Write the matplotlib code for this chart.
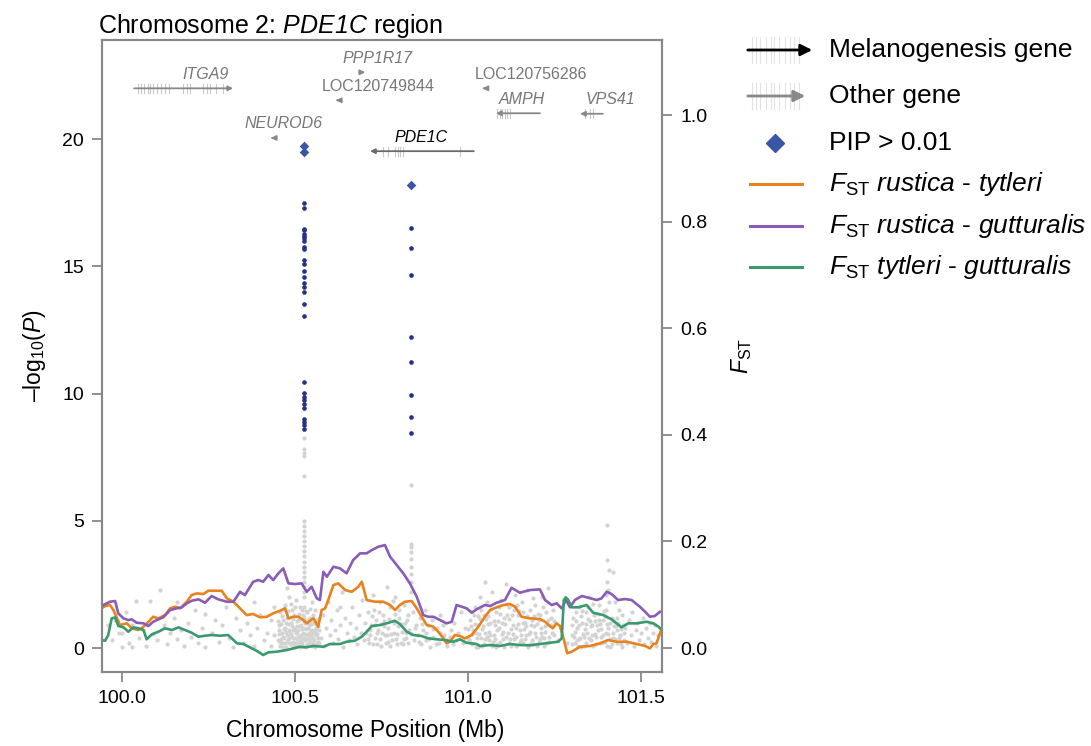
import matplotlib
matplotlib.use('Agg')
import matplotlib.pyplot as plt
from matplotlib.patches import FancyArrowPatch
from matplotlib.lines import Line2D

plt.rcParams['font.family'] = 'Liberation Sans'
plt.rcParams['mathtext.fontset'] = 'custom'
# rm used for italic words (digits included), sf for upright sub/superscripts
plt.rcParams['mathtext.rm'] = 'Liberation Sans:italic'
plt.rcParams['mathtext.it'] = 'Liberation Sans:italic'
plt.rcParams['mathtext.sf'] = 'Liberation Sans'

# background SNPs: position (Mb), -log10(P)
gray_pts = [
    (99.96, 0.9), (99.97, 0.3), (99.98, 1.1), (99.99, 0.6), (100.00, 0.05), (100.00, 0.6), (100.01, 1.4),
    (100.02, 0.2), (100.03, 0.05), (100.03, 0.9), (100.04, 1.85), (100.05, 0.4), (100.06, 0.7), (100.07, 0.1),
    (100.08, 1.85), (100.09, 0.55), (100.10, 0.3), (100.11, 2.3), (100.12, 0.9), (100.13, 0.15), (100.14, 0.6),
    (100.15, 1.2), (100.16, 0.35), (100.16, 1.8), (100.17, 0.7), (100.18, 0.1), (100.19, 1.0), (100.20, 0.45),
    (100.21, 1.5), (100.22, 0.2), (100.23, 0.8), (100.24, 1.35), (100.24, 0.05),
    (100.26, 0.6), (100.27, 1.1), (100.28, 0.25), (100.29, 0.9), (100.30, 1.6), (100.31, 0.4), (100.32, 0.05),
    (100.33, 1.2), (100.34, 0.7), (100.35, 0.2), (100.36, 1.0), (100.37, 0.5), (100.38, 1.8), (100.38, 0.1),
    (100.39, 0.8), (100.40, 1.3), (100.41, 0.3), (100.42, 0.6), (100.43, 1.1), (100.43, 0.1), (100.44, 0.5),
    (100.44, 1.6), (100.476, 2.35),
    (100.451, 0.3), (100.454, 0.9), (100.456, 0.1), (100.458, 1.4), (100.461, 0.6), (100.463, 0.2), (100.465, 1.1),
    (100.468, 0.4), (100.470, 0.8), (100.472, 1.7), (100.474, 0.05), (100.476, 0.5), (100.478, 1.2), (100.480, 0.3),
    (100.482, 0.7), (100.484, 2.0), (100.486, 0.15), (100.488, 1.0), (100.490, 0.45), (100.492, 1.5), (100.494, 0.25),
    (100.496, 0.8), (100.498, 1.3), (100.500, 0.05), (100.502, 0.6), (100.504, 1.9), (100.506, 0.35), (100.508, 1.1),
    (100.510, 0.7), (100.512, 0.1), (100.514, 1.6), (100.516, 0.5), (100.518, 0.9), (100.520, 0.2), (100.522, 1.3),
    (100.524, 0.6), (100.528, 0.3), (100.530, 1.0), (100.532, 0.05), (100.534, 1.4), (100.536, 0.5), (100.538, 0.8),
    (100.540, 0.2), (100.542, 1.2), (100.544, 0.4), (100.546, 0.7), (100.548, 1.8), (100.550, 0.1), (100.552, 0.6),
    (100.554, 1.0), (100.556, 0.3), (100.558, 1.5), (100.560, 0.5), (100.562, 0.15), (100.564, 0.9), (100.566, 0.4),
    (100.568, 1.2), (100.570, 0.7), (100.455, 0.55), (100.467, 0.75), (100.479, 0.95), (100.489, 0.2), (100.497, 0.4),
    (100.507, 0.85), (100.517, 0.3), (100.535, 0.15), (100.545, 0.95), (100.557, 0.65),
    (100.452, 1.05), (100.459, 0.35), (100.462, 1.25), (100.466, 0.05), (100.469, 1.55), (100.473, 0.65),
    (100.477, 0.25), (100.481, 1.45), (100.485, 0.6), (100.487, 1.75), (100.491, 0.85), (100.493, 0.05),
    (100.495, 1.15), (100.499, 0.7), (100.501, 1.6), (100.503, 0.2), (100.505, 1.05), (100.509, 0.45),
    (100.511, 1.35), (100.513, 0.85), (100.515, 0.05), (100.519, 1.5), (100.521, 0.75), (100.523, 0.1),
    (100.527, 1.05), (100.529, 0.55), (100.531, 1.45), (100.533, 0.75), (100.537, 1.1), (100.539, 0.35),
    (100.541, 0.6), (100.543, 1.55), (100.547, 0.25), (100.549, 1.0), (100.551, 0.4), (100.553, 1.3),
    (100.555, 0.7), (100.559, 0.05), (100.561, 1.1), (100.563, 0.55), (100.567, 0.85), (100.569, 0.2),
    (100.453, 0.7), (100.457, 0.25), (100.460, 0.95), (100.464, 0.45), (100.471, 0.2), (100.475, 1.0),
    (100.483, 0.4), (100.487, 0.55), (100.493, 0.7), (100.499, 0.15), (100.505, 0.6), (100.511, 0.25),
    (100.515, 1.15), (100.521, 0.4), (100.533, 0.35), (100.539, 0.9), (100.547, 0.5), (100.553, 0.15),
    (100.561, 0.8), (100.565, 0.25),
    (100.526, 0.4), (100.526, 0.8), (100.526, 1.2), (100.526, 1.6), (100.526, 2.0), (100.526, 2.2), (100.526, 2.4),
    (100.526, 2.6), (100.526, 2.8), (100.526, 3.0), (100.526, 3.2), (100.526, 3.4), (100.526, 3.6), (100.526, 3.8),
    (100.526, 4.0), (100.526, 4.2), (100.526, 4.4), (100.526, 4.6), (100.526, 4.8), (100.526, 5.0), (100.526, 6.76),
    (100.526, 7.54), (100.526, 7.67), (100.526, 7.81), (100.526, 8.25),
    (100.575, 0.4), (100.58, 1.3), (100.585, 0.1), (100.59, 0.8), (100.595, 1.8), (100.60, 0.5), (100.605, 1.1),
    (100.61, 0.2), (100.615, 0.7), (100.62, 1.5), (100.625, 0.35), (100.63, 0.9), (100.635, 2.2), (100.64, 0.05),
    (100.645, 1.2), (100.65, 0.6), (100.655, 0.3), (100.66, 1.0), (100.665, 1.6), (100.67, 0.45), (100.675, 0.8),
    (100.68, 0.15), (100.685, 1.3), (100.69, 0.6), (100.695, 1.9), (100.70, 0.3), (100.630, 1.6),
    (100.705, 0.6), (100.71, 1.4), (100.715, 0.2), (100.72, 0.9), (100.725, 2.1), (100.73, 0.4), (100.735, 1.1),
    (100.74, 0.7), (100.745, 1.8), (100.75, 0.1), (100.755, 1.3), (100.76, 0.5), (100.765, 2.4), (100.77, 0.8),
    (100.775, 1.6), (100.78, 0.3), (100.785, 1.0), (100.79, 2.0), (100.795, 0.55), (100.80, 1.2), (100.805, 0.2),
    (100.81, 0.9), (100.815, 1.7), (100.82, 0.4), (100.825, 1.1), (100.83, 0.7), (100.84, 1.4), (100.845, 0.3),
    (100.85, 0.9), (100.712, 0.35), (100.728, 1.5), (100.748, 0.95), (100.768, 0.25), (100.788, 1.35), (100.808, 0.65),
    (100.702, 1.0), (100.718, 0.7), (100.722, 1.25), (100.732, 0.9), (100.738, 0.15), (100.742, 1.4),
    (100.752, 0.6), (100.758, 1.05), (100.762, 0.2), (100.772, 1.15), (100.778, 0.55), (100.782, 1.85),
    (100.792, 0.35), (100.798, 0.85), (100.802, 1.5), (100.812, 0.15), (100.818, 1.0), (100.822, 0.6), (100.828, 1.3),
    (100.716, 0.5), (100.726, 0.15), (100.736, 0.6), (100.746, 0.35), (100.756, 0.85), (100.766, 0.5),
    (100.776, 0.1), (100.786, 0.6), (100.796, 0.15), (100.806, 0.95), (100.816, 0.35), (100.826, 0.2),
    (100.836, 0.55), (100.846, 0.8),
    (100.834, 2.2), (100.834, 2.6), (100.834, 2.9), (100.834, 3.2), (100.834, 3.5), (100.834, 3.77), (100.834, 3.97),
    (100.834, 4.1), (100.834, 6.42),
    (100.855, 0.5), (100.86, 1.2), (100.865, 0.15), (100.87, 0.7), (100.875, 1.5), (100.88, 0.3), (100.885, 0.9),
    (100.89, 0.05), (100.895, 1.1), (100.90, 0.45), (100.91, 0.8), (100.915, 0.2), (100.92, 1.3), (100.93, 0.5),
    (100.94, 0.1), (100.95, 0.7), (100.96, 1.0), (100.965, 0.3), (100.97, 0.6), (100.98, 1.4), (100.985, 0.2),
    (100.99, 0.8), (101.0, 0.4), (100.858, 0.25), (100.868, 0.95), (100.878, 0.6), (100.888, 0.35), (100.898, 0.75),
    (100.908, 0.15), (100.918, 0.6), (100.928, 0.9), (100.938, 0.3), (100.948, 0.45), (100.958, 0.15),
    (101.005, 1.1), (101.01, 0.2), (101.015, 0.7), (101.02, 1.6), (101.025, 0.4), (101.03, 0.9), (101.035, 2.0),
    (101.04, 0.1), (101.045, 1.3), (101.049, 2.58), (101.05, 0.6), (101.055, 1.8), (101.06, 0.3), (101.065, 1.0),
    (101.07, 2.2), (101.075, 0.5), (101.08, 1.4), (101.085, 0.15), (101.09, 0.8), (101.095, 1.9), (101.10, 0.35),
    (101.105, 1.2), (101.11, 2.5), (101.115, 0.6), (101.12, 1.6), (101.125, 0.1), (101.13, 0.9), (101.135, 2.1),
    (101.14, 0.45), (101.145, 1.3), (101.15, 0.7), (101.155, 1.8), (101.16, 0.2), (101.165, 1.0), (101.17, 2.3),
    (101.175, 0.55), (101.18, 1.5), (101.185, 0.3), (101.19, 0.85), (101.195, 1.7), (101.20, 0.1), (101.205, 1.1),
    (101.21, 0.6), (101.215, 2.0), (101.22, 0.4), (101.225, 1.4), (101.23, 2.37), (101.235, 0.25), (101.24, 0.9),
    (101.245, 1.5), (101.25, 0.5), (101.012, 0.55), (101.028, 1.25), (101.042, 0.75), (101.058, 0.95), (101.072, 0.25),
    (101.088, 1.05), (101.102, 0.65), (101.118, 1.15), (101.132, 0.35), (101.148, 1.45), (101.162, 0.75),
    (101.178, 0.15), (101.192, 1.25), (101.208, 0.35), (101.222, 0.85),
    (101.003, 0.3), (101.008, 0.85), (101.018, 1.3), (101.022, 0.05), (101.032, 0.55), (101.038, 1.5),
    (101.048, 0.35), (101.052, 1.15), (101.062, 0.65), (101.068, 1.55), (101.078, 0.9), (101.082, 0.05),
    (101.092, 1.35), (101.098, 0.55), (101.108, 0.95), (101.112, 1.75), (101.122, 0.35), (101.128, 1.3),
    (101.138, 0.8), (101.142, 1.7), (101.152, 0.3), (101.158, 1.0), (101.168, 0.5), (101.172, 1.25),
    (101.182, 0.9), (101.188, 1.95), (101.198, 0.45), (101.202, 1.35), (101.212, 0.8), (101.218, 1.6),
    (101.228, 0.2), (101.232, 1.1), (101.242, 0.6), (101.248, 1.05),
    (101.001, 0.75), (101.007, 1.45), (101.013, 0.15), (101.019, 0.95), (101.024, 0.6), (101.029, 0.05),
    (101.034, 1.15), (101.039, 0.4), (101.044, 0.85), (101.047, 0.15), (101.054, 0.45), (101.059, 1.25),
    (101.064, 0.5), (101.069, 0.1), (101.074, 1.05), (101.079, 0.35), (101.084, 0.7), (101.089, 1.6),
    (101.094, 0.25), (101.099, 1.0), (101.104, 0.05), (101.109, 0.45), (101.114, 1.3), (101.119, 0.2),
    (101.124, 0.75), (101.129, 0.55), (101.134, 1.5), (101.139, 0.1), (101.144, 0.95), (101.149, 0.25),
    (101.154, 0.5), (101.159, 1.4), (101.164, 0.35), (101.169, 0.85), (101.174, 0.05), (101.179, 0.65),
    (101.184, 1.1), (101.189, 0.15), (101.194, 0.6), (101.199, 0.95), (101.204, 0.25), (101.209, 1.3),
    (101.214, 0.45), (101.219, 0.1), (101.224, 0.65), (101.229, 0.9), (101.234, 0.45), (101.239, 1.2),
    (101.26, 0.3), (101.27, 0.8), (101.285, 0.2),
    (101.30, 0.5), (101.305, 1.2), (101.31, 0.2), (101.315, 0.8), (101.32, 1.6), (101.325, 0.4), (101.33, 1.0),
    (101.335, 0.1), (101.34, 1.4), (101.345, 0.6), (101.35, 2.0), (101.355, 0.3), (101.36, 0.9), (101.365, 1.3),
    (101.37, 0.15), (101.375, 0.7), (101.38, 1.7), (101.385, 0.45), (101.39, 1.1), (101.395, 0.25), (101.40, 1.5),
    (101.405, 0.8), (101.41, 0.35), (101.415, 1.2), (101.42, 0.6), (101.425, 1.8), (101.43, 0.2), (101.435, 1.0),
    (101.44, 0.5), (101.445, 1.3), (101.45, 0.3), (101.308, 0.65), (101.322, 0.35), (101.338, 0.75), (101.352, 1.05),
    (101.368, 0.55), (101.382, 0.95), (101.398, 0.6), (101.412, 0.05), (101.428, 0.85), (101.442, 0.15),
    (101.302, 0.9), (101.312, 1.4), (101.318, 0.1), (101.328, 1.25), (101.332, 0.55), (101.342, 0.95),
    (101.348, 1.6), (101.358, 0.5), (101.362, 1.75), (101.372, 0.9), (101.378, 1.1), (101.388, 0.2),
    (101.392, 1.45), (101.402, 0.95), (101.408, 1.8), (101.418, 0.4), (101.422, 1.05), (101.432, 0.7),
    (101.438, 1.5), (101.448, 0.9),
    (101.301, 0.15), (101.306, 0.45), (101.311, 1.05), (101.316, 0.3), (101.321, 0.9), (101.326, 0.05),
    (101.331, 1.45), (101.336, 0.45), (101.341, 0.2), (101.346, 1.15), (101.351, 0.4), (101.356, 0.85),
    (101.361, 0.1), (101.366, 1.05), (101.371, 0.45), (101.376, 1.35), (101.381, 0.2), (101.386, 0.75),
    (101.391, 0.5), (101.396, 1.25), (101.401, 0.1), (101.406, 0.55), (101.411, 1.0), (101.416, 0.15),
    (101.421, 0.85), (101.426, 0.35), (101.431, 1.2), (101.436, 0.4), (101.441, 0.75), (101.446, 0.05),
    (101.451, 0.6),
    (101.402, 4.83), (101.401, 3.46), (101.407, 3.06), (101.420, 3.0), (101.401, 2.6), (101.404, 2.3), (101.398, 2.1),
    (101.455, 0.8), (101.46, 0.2), (101.465, 1.1), (101.47, 0.5), (101.475, 1.4), (101.48, 0.1), (101.485, 0.7),
    (101.49, 1.0), (101.495, 0.3), (101.50, 0.6), (101.505, 1.2), (101.51, 0.15), (101.515, 0.8), (101.52, 0.4),
    (101.525, 1.0), (101.53, 0.25), (101.535, 0.6), (101.54, 0.9), (101.545, 0.1), (101.55, 0.5),
]

# significant SNPs (small navy dots)
sig_x = [100.526] * 29 + [100.834] * 8
sig_p = [17.50, 17.30, 16.49, 16.42, 16.29, 16.19, 16.10, 15.99, 15.77, 15.68, 15.27, 15.08, 14.81, 14.59,
         14.35, 14.20, 14.00, 13.54, 13.05, 10.45, 10.03, 9.87, 9.74, 9.61, 9.42, 9.01, 8.89, 8.76, 8.63,
         16.52, 15.74, 14.66, 12.22, 11.26, 9.95, 9.10, 8.45]

# PIP > 0.01
pip_x = [100.526, 100.526, 100.834]
pip_p = [19.74, 19.48, 18.19]

# FST windows
rt_x = [99.936, 99.951, 99.965, 99.975, 99.994, 100.014, 100.028, 100.047, 100.062, 100.081, 100.090, 100.105,
        100.124, 100.139, 100.153, 100.168, 100.187, 100.201, 100.216, 100.235, 100.249, 100.264, 100.288, 100.303,
        100.322, 100.341, 100.360, 100.379, 100.399, 100.418, 100.437, 100.457, 100.471, 100.481, 100.495, 100.510,
        100.524, 100.534, 100.553, 100.567, 100.577, 100.587, 100.596, 100.611, 100.625, 100.645, 100.664, 100.683,
        100.693, 100.707, 100.731, 100.755, 100.775, 100.789, 100.803, 100.818, 100.837, 100.852, 100.866, 100.881,
        100.900, 100.914, 100.929, 100.938, 100.948, 100.962, 100.977, 100.991, 101.011, 101.030, 101.049, 101.064,
        101.083, 101.102, 101.121, 101.136, 101.155, 101.179, 101.208, 101.223, 101.237, 101.245, 101.256, 101.266,
        101.275, 101.287, 101.300, 101.324, 101.353, 101.382, 101.405, 101.430, 101.459, 101.488, 101.512, 101.526,
        101.536, 101.545, 101.555, 101.561]
rt_fst = [0.0726, 0.0788, 0.0807, 0.0713, 0.0432, 0.0463, 0.0370, 0.0338, 0.0400, 0.0525, 0.0587, 0.0557,
          0.0619, 0.0745, 0.0775, 0.0745, 0.0869, 0.0994, 0.1026, 0.1013, 0.1075, 0.1075, 0.1075, 0.0932,
          0.0869, 0.0745, 0.0619, 0.0638, 0.0576, 0.0587, 0.0651, 0.0700, 0.0745, 0.0557, 0.0587, 0.0587,
          0.0525, 0.0463, 0.0557, 0.0400, 0.0713, 0.0745, 0.0901, 0.1182, 0.1214, 0.1088, 0.1056, 0.1150,
          0.1244, 0.0901, 0.0869, 0.0869, 0.0807, 0.0713, 0.0807, 0.0869, 0.0882, 0.0745, 0.0587, 0.0432,
          0.0400, 0.0306, 0.0182, 0.0088, 0.0118, 0.0244, 0.0225, 0.0182, 0.0244, 0.0400, 0.0587, 0.0713,
          0.0764, 0.0807, 0.0826, 0.0775, 0.0587, 0.0557, 0.0544, 0.0493, 0.0413, 0.0370, 0.0463, 0.0413,
          0.0212, -0.0099, -0.0069, 0.0024, 0.0038, 0.0088, 0.0150, 0.0118, 0.0118, 0.0075, 0.0038, -0.0006,
          0.0075, 0.0088, 0.0276, 0.0375]

rg_x = [99.936, 99.946, 99.965, 99.980, 99.989, 100.004, 100.018, 100.028, 100.042, 100.062, 100.076, 100.090,
        100.105, 100.119, 100.139, 100.158, 100.173, 100.187, 100.201, 100.221, 100.240, 100.259, 100.278, 100.303,
        100.322, 100.341, 100.355, 100.379, 100.394, 100.408, 100.423, 100.437, 100.452, 100.466, 100.481, 100.500,
        100.519, 100.534, 100.548, 100.563, 100.572, 100.582, 100.592, 100.611, 100.630, 100.649, 100.668, 100.688,
        100.707, 100.722, 100.741, 100.760, 100.775, 100.794, 100.813, 100.832, 100.852, 100.871, 100.885, 100.900,
        100.919, 100.938, 100.953, 100.967, 100.982, 100.996, 101.011, 101.025, 101.049, 101.064, 101.083, 101.107,
        101.126, 101.150, 101.179, 101.208, 101.223, 101.242, 101.256, 101.271, 101.283, 101.295, 101.309, 101.329,
        101.348, 101.372, 101.386, 101.401, 101.415, 101.434, 101.454, 101.473, 101.497, 101.512, 101.526, 101.540,
        101.555, 101.561]
rg_fst = [0.0745, 0.0807, 0.0869, 0.0882, 0.0651, 0.0557, 0.0525, 0.0538, 0.0475, 0.0463, 0.0413, 0.0493,
          0.0538, 0.0576, 0.0713, 0.0745, 0.0764, 0.0839, 0.0887, 0.0914, 0.0850, 0.0976, 0.0914, 0.0869,
          0.0869, 0.1056, 0.0994, 0.1244, 0.1276, 0.1244, 0.1370, 0.1276, 0.1402, 0.1495, 0.1214, 0.1201,
          0.1214, 0.1056, 0.1150, 0.0932, 0.0901, 0.1432, 0.1338, 0.1525, 0.1495, 0.1402, 0.1651, 0.1777,
          0.1777, 0.1839, 0.1901, 0.1932, 0.1713, 0.1557, 0.1402, 0.1214, 0.0962, 0.0619, 0.0587, 0.0587,
          0.0525, 0.0463, 0.0493, 0.0807, 0.0775, 0.0745, 0.0662, 0.0726, 0.0807, 0.0788, 0.0850, 0.0901,
          0.1131, 0.1038, 0.1088, 0.1101, 0.0901, 0.0807, 0.0839, 0.0745, 0.0901, 0.0764, 0.0901, 0.0976,
          0.0944, 0.0901, 0.0932, 0.1056, 0.1013, 0.0901, 0.0919, 0.0901, 0.0775, 0.0681, 0.0587, 0.0600,
          0.0681, 0.0675]

tg_x = [99.936, 99.951, 99.960, 99.970, 99.980, 99.989, 100.004, 100.018, 100.033, 100.047, 100.062, 100.071,
        100.086, 100.105, 100.124, 100.144, 100.163, 100.182, 100.201, 100.221, 100.240, 100.259, 100.283, 100.307,
        100.332, 100.351, 100.375, 100.389, 100.408, 100.423, 100.447, 100.476, 100.514, 100.529, 100.553, 100.582,
        100.601, 100.630, 100.649, 100.673, 100.693, 100.707, 100.722, 100.746, 100.765, 100.789, 100.803, 100.823,
        100.842, 100.866, 100.885, 100.910, 100.934, 100.958, 100.977, 100.996, 101.025, 101.035, 101.064, 101.092,
        101.121, 101.150, 101.179, 101.208, 101.237, 101.261, 101.271, 101.277, 101.283, 101.290, 101.300, 101.319,
        101.343, 101.362, 101.391, 101.415, 101.444, 101.463, 101.488, 101.516, 101.536, 101.551, 101.560]
tg_fst = [0.0150, 0.0137, 0.0244, 0.0557, 0.0576, 0.0413, 0.0388, 0.0306, 0.0388, 0.0370, 0.0338, 0.0163,
          0.0257, 0.0306, 0.0370, 0.0338, 0.0388, 0.0338, 0.0287, 0.0212, 0.0231, 0.0244, 0.0231, 0.0244,
          0.0088, 0.0075, -0.0006, -0.0051, -0.0131, -0.0081, -0.0069, -0.0038, 0.0024, 0.0013, 0.0038, 0.0024,
          0.0075, 0.0075, 0.0118, 0.0137, 0.0212, 0.0306, 0.0413, 0.0432, 0.0463, 0.0512, 0.0450, 0.0306,
          0.0244, 0.0225, 0.0182, 0.0163, 0.0150, 0.0118, 0.0163, 0.0099, 0.0075, 0.0038, 0.0056, 0.0038,
          0.0075, 0.0056, 0.0051, 0.0075, 0.0099, 0.0118, 0.0182, 0.0901, 0.0951, 0.0901, 0.0764, 0.0764,
          0.0807, 0.0662, 0.0619, 0.0538, 0.0388, 0.0463, 0.0463, 0.0493, 0.0463, 0.0400, 0.0338]

# genes: name, start, end, strand, track level, label x, melanogenesis
gene_names = ['ITGA9', 'NEUROD6', 'LOC120749844', 'PPP1R17', 'PDE1C', 'LOC120756286', 'AMPH', 'VPS41']
gene_start = [100.035, 100.430, 100.618, 100.686, 100.717, 101.042, 101.081, 101.324]
gene_end = [100.321, 100.436, 100.624, 100.703, 101.017, 101.051, 101.208, 101.390]
gene_strand = [1, -1, -1, 1, -1, -1, -1, -1]
gene_level = [22.0, 20.05, 21.53, 22.63, 19.53, 22.0, 21.02, 21.0]
gene_label_x = [100.240, 100.468, 100.740, 100.738, 100.864, 101.181, 101.155, 101.412]
gene_melano = [False, False, False, False, True, False, False, False]
gene_exons = [
    [100.046, 100.055, 100.064, 100.075, 100.081, 100.090, 100.101, 100.113, 100.124, 100.136,
     100.176, 100.188, 100.197, 100.234, 100.246, 100.254, 100.272, 100.292],
    [], [], [],
    [100.754, 100.769, 100.789, 100.798, 100.803, 100.812, 100.977],
    [],
    [101.084, 101.092, 101.098, 101.107, 101.113, 101.121],
    [101.338, 101.353, 101.361],
]

C_RT = '#E8821E'
C_RG = '#8A5CB5'
C_TG = '#3A9A6E'
C_SIG = '#25308A'
C_PIP = '#3A56A6'
C_GRAY = '#D3D3D3'
C_AX = '#888888'

fig = plt.figure(figsize=(10.91, 7.46), dpi=100)
ax = fig.add_axes([0.0935, 0.0992, 0.5133, 0.8472])
ax2 = ax.twinx()

gx = [p[0] for p in gray_pts]
gp = [p[1] for p in gray_pts]
ax.scatter(gx, gp, s=9, color=C_GRAY, linewidths=0, zorder=2)
ax.scatter(sig_x, sig_p, s=11, color=C_SIG, linewidths=0, zorder=3)
ax.scatter(pip_x, pip_p, s=24, marker='D', color=C_PIP, linewidths=0, zorder=4)

# gene track
for i, name in enumerate(gene_names):
    y = gene_level[i]
    col = '#6A6A6A' if gene_melano[i] else C_AX
    for ex in gene_exons[i]:
        ax.plot([ex, ex], [y - 0.18, y + 0.18], color='#C8C8C8', lw=0.8, zorder=1)
    if gene_strand[i] > 0:
        a, b = gene_start[i], gene_end[i]
    else:
        a, b = gene_end[i], gene_start[i]
    ax.annotate('', xy=(b, y), xytext=(a, y),
                arrowprops=dict(arrowstyle='-|>', color=col, lw=1.3, mutation_scale=7,
                                shrinkA=0, shrinkB=0), zorder=3)
    style = 'normal' if name.startswith('LOC') else 'italic'
    tcol = 'black' if gene_melano[i] else '#777777'
    ax.text(gene_label_x[i], y + 0.55, name, ha='center', va='center', fontsize=11.5,
            style=style, color=tcol)

ax2.plot(rt_x, rt_fst, color=C_RT, lw=1.9)
ax2.plot(rg_x, rg_fst, color=C_RG, lw=1.9)
ax2.plot(tg_x, tg_fst, color=C_TG, lw=1.9)

ax.set_xlim(99.942, 101.561)
ax.set_ylim(-0.94, 23.9)
ax2.set_ylim(-0.045, 1.1413)

ax.set_xticks([100.0, 100.5, 101.0, 101.5])
ax.set_xticklabels(['100.0', '100.5', '101.0', '101.5'])
ax.set_yticks([0, 5, 10, 15, 20])
ax2.set_yticks([0.0, 0.2, 0.4, 0.6, 0.8, 1.0])
ax2.set_yticklabels(['0.0', '0.2', '0.4', '0.6', '0.8', '1.0'])

for a_ in (ax, ax2):
    for sp in a_.spines.values():
        sp.set_color(C_AX)
        sp.set_linewidth(1.5)
    a_.tick_params(axis='both', colors=C_AX, labelcolor='black', labelsize=14,
                   length=7, width=1.3, direction='out', pad=6)

ax.set_xlabel('Chromosome Position (Mb)', fontsize=16.5)
ax.xaxis.set_label_coords(0.47, -0.075)
ax.set_ylabel('–log$_{\\mathsf{10}}$($\\mathrm{P}$)', fontsize=16.5, labelpad=10)
ax2.set_ylabel('$\\mathrm{F}_{\\mathsf{ST}}$', fontsize=16.5, labelpad=16)
ax.set_title('Chromosome 2: $\\mathrm{PDE1C}$ region', loc='left', fontsize=18, pad=4, x=-0.008)

# legend drawn in figure pixels
W, H = 1091, 746


def fp(px, py):
    return px / W, 1 - py / H


leg_rows = [50, 96, 143, 184, 226, 267]
leg_text = ['Melanogenesis gene', 'Other gene', 'PIP > 0.01',
            '$\\mathrm{F}_{\\mathsf{ST}}$ $\\mathrm{rustica}$ - $\\mathrm{tytleri}$',
            '$\\mathrm{F}_{\\mathsf{ST}}$ $\\mathrm{rustica}$ - $\\mathrm{gutturalis}$',
            '$\\mathrm{F}_{\\mathsf{ST}}$ $\\mathrm{tytleri}$ - $\\mathrm{gutturalis}$']

for k, (py, col) in enumerate(zip(leg_rows[:2], ['black', C_AX])):
    for ex in [752, 756, 760, 766, 771, 774, 779, 785, 790, 794, 799]:
        x0, y0 = fp(ex, py - 13)
        x1, y1 = fp(ex, py + 13)
        fig.add_artist(Line2D([x0, x1], [y0, y1], color='#E2E2E2', lw=0.8, zorder=1))
    end = 815 if k == 0 else 808
    fig.add_artist(FancyArrowPatch(fp(745, py), fp(end, py), transform=fig.transFigure,
                                   arrowstyle='-|>', mutation_scale=17, lw=2, color=col, zorder=3))

dx, dy = fp(775, 143)
fig.add_artist(Line2D([dx], [dy], marker='D', markersize=9, color=C_PIP, linestyle='none'))

for py, col in zip(leg_rows[3:], [C_RT, C_RG, C_TG]):
    x0, y0 = fp(750, py)
    x1, _ = fp(802, py)
    fig.add_artist(Line2D([x0, x1], [y0, y0], color=col, lw=2.2))

for py, t in zip(leg_rows, leg_text):
    x, y = fp(829, py)
    fig.text(x, y, t, fontsize=19, va='center', ha='left')

fig.savefig('out.png', dpi=100)
